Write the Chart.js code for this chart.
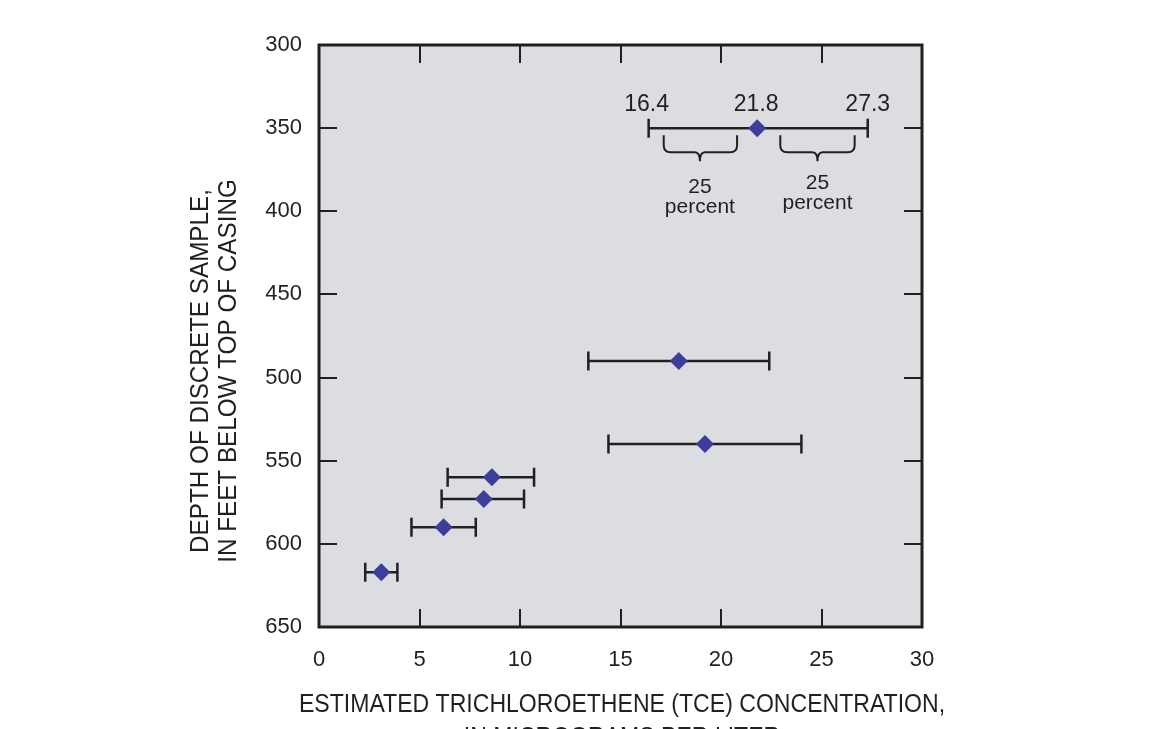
<!DOCTYPE html>
<html>
<head>
<meta charset="utf-8">
<script src="https://cdn.jsdelivr.net/npm/chart.js@4.4.1/dist/chart.umd.min.js"></script>
<style>
html,body{margin:0;padding:0;background:#fff;}
#c{display:block;}
</style>
</head>
<body>
<canvas id="c" width="1154" height="729"></canvas>
<script>
// ---- data ----
const depthFt = [350, 490, 540, 560, 573, 590, 617];
const tceValue = [21.8, 17.9, 19.2, 8.6, 8.2, 6.2, 3.1];
const tceLow = [16.4, 13.4, 14.4, 6.4, 6.1, 4.6, 2.3];
const tceHigh = [27.3, 22.4, 24.0, 10.7, 10.2, 7.8, 3.9];
const xTicks = [0, 5, 10, 15, 20, 25, 30];
const yTicks = [300, 350, 400, 450, 500, 550, 600, 650];
const exampleLabels = ['16.4', '21.8', '27.3'];
const xTitle = ['ESTIMATED TRICHLOROETHENE (TCE) CONCENTRATION,', 'IN MICROGRAMS PER LITER'];
const yTitle = ['DEPTH OF DISCRETE SAMPLE,', 'IN FEET BELOW TOP OF CASING'];
const braceText = ['25', 'percent'];

const FONT = "'Liberation Sans', Arial, sans-serif";
const INK = '#231f20';

const decor = {
  id: 'decor',
  beforeDraw(chart) {
    const {ctx, chartArea: a} = chart;
    ctx.save();
    ctx.fillStyle = '#dcdde0';
    ctx.fillRect(a.left, a.top, a.right - a.left, a.bottom - a.top);
    ctx.restore();
  },
  beforeDatasetsDraw(chart) {
    const {ctx, scales: {x, y}} = chart;
    ctx.save();
    ctx.strokeStyle = INK;
    ctx.lineWidth = 2.5;
    const cap = 9.5;
    for (let i = 0; i < depthFt.length; i++) {
      const py = y.getPixelForValue(depthFt[i]);
      const x1 = x.getPixelForValue(tceLow[i]);
      const x2 = x.getPixelForValue(tceHigh[i]);
      ctx.beginPath();
      ctx.moveTo(x1, py); ctx.lineTo(x2, py);
      ctx.moveTo(x1, py - cap); ctx.lineTo(x1, py + cap);
      ctx.moveTo(x2, py - cap); ctx.lineTo(x2, py + cap);
      ctx.stroke();
    }
    ctx.restore();
  },
  afterDraw(chart) {
    const {ctx, chartArea: a, scales: {x, y}} = chart;
    ctx.save();
    // inward ticks
    ctx.strokeStyle = INK;
    ctx.lineWidth = 2;
    const tl = 18;
    yTicks.forEach(v => {
      if (v === yTicks[0] || v === yTicks[yTicks.length - 1]) return;
      const py = Math.round(y.getPixelForValue(v));
      ctx.beginPath();
      ctx.moveTo(a.left, py); ctx.lineTo(a.left + tl, py);
      ctx.moveTo(a.right, py); ctx.lineTo(a.right - tl, py);
      ctx.stroke();
    });
    xTicks.forEach(v => {
      if (v === xTicks[0] || v === xTicks[xTicks.length - 1]) return;
      const px = Math.round(x.getPixelForValue(v));
      ctx.beginPath();
      ctx.moveTo(px, a.bottom); ctx.lineTo(px, a.bottom - tl);
      ctx.moveTo(px, a.top); ctx.lineTo(px, a.top + tl);
      ctx.stroke();
    });
    // frame
    ctx.lineWidth = 3;
    ctx.strokeRect(a.left, a.top, a.right - a.left, a.bottom - a.top);

    // example labels above the first point
    ctx.fillStyle = INK;
    ctx.font = '23px ' + FONT;
    ctx.textAlign = 'center';
    ctx.textBaseline = 'middle';
    const ly = y.getPixelForValue(depthFt[0]) - 23;
    ctx.fillText(exampleLabels[0], x.getPixelForValue(tceLow[0]) - 2, ly);
    ctx.fillText(exampleLabels[1], x.getPixelForValue(tceValue[0]) - 1, ly);
    ctx.fillText(exampleLabels[2], x.getPixelForValue(tceHigh[0]), ly);

    // braces
    ctx.lineWidth = 2;
    const brace = (xa, xb, xt, yTop, yH, yTip) => {
      const r = 7;
      ctx.beginPath();
      ctx.moveTo(xa, yTop);
      ctx.lineTo(xa, yH - r);
      ctx.quadraticCurveTo(xa, yH, xa + r, yH);
      ctx.lineTo(xt - 5, yH);
      ctx.quadraticCurveTo(xt, yH, xt, yTip);
      ctx.quadraticCurveTo(xt, yH, xt + 5, yH);
      ctx.lineTo(xb - r, yH);
      ctx.quadraticCurveTo(xb, yH, xb, yH - r);
      ctx.lineTo(xb, yTop);
      ctx.stroke();
    };
    const yb = y.getPixelForValue(depthFt[0]);
    brace(x.getPixelForValue(17.15), x.getPixelForValue(20.8), x.getPixelForValue(18.95), yb + 7, yb + 24, yb + 33);
    brace(x.getPixelForValue(22.95), x.getPixelForValue(26.65), x.getPixelForValue(24.8), yb + 7, yb + 24, yb + 33);
    ctx.font = '21px ' + FONT;
    ctx.fillText(braceText[0], x.getPixelForValue(18.95), yb + 59);
    ctx.fillText(braceText[1], x.getPixelForValue(18.95), yb + 79);
    ctx.fillText(braceText[0], x.getPixelForValue(24.8), yb + 55);
    ctx.fillText(braceText[1], x.getPixelForValue(24.8), yb + 75);

    // axis titles (slightly condensed lettering)
    ctx.font = '26px ' + FONT;
    ctx.save();
    ctx.translate(622, 705);
    ctx.scale(0.887, 1);
    ctx.fillText(xTitle[0], 0, 0);
    ctx.fillText(xTitle[1], 0, 33);
    ctx.restore();
    ctx.font = '25px ' + FONT;
    ctx.save();
    ctx.translate(201, 371);
    ctx.rotate(-Math.PI / 2);
    ctx.scale(0.97, 1);
    ctx.fillText(yTitle[0], 0, 0);
    ctx.fillText(yTitle[1], 0, 28);
    ctx.restore();
    ctx.restore();
  }
};

new Chart(document.getElementById('c'), {
  type: 'scatter',
  data: {
    datasets: [{
      data: depthFt.map((d, i) => ({x: tceValue[i], y: d})),
      pointStyle: 'rectRot',
      radius: 9,
      hoverRadius: 9,
      backgroundColor: '#3d3d9c',
      borderColor: '#3d3d9c',
      borderWidth: 0
    }]
  },
  options: {
    responsive: false,
    animation: false,
    devicePixelRatio: 1,
    layout: {padding: {top: 45, right: 232, left: 0, bottom: 0}},
    plugins: {legend: {display: false}, tooltip: {enabled: false}},
    scales: {
      x: {
        type: 'linear', min: 0, max: 30,
        afterFit: s => { s.height = 102; },
        afterBuildTicks: s => { s.ticks = xTicks.map(v => ({value: v})); },
        grid: {display: false, drawTicks: false},
        border: {display: false},
        ticks: {padding: 20, color: INK, font: {family: FONT, size: 22}, maxRotation: 0}
      },
      y: {
        type: 'linear', min: 300, max: 650, reverse: true,
        afterFit: s => { s.width = 319; },
        afterBuildTicks: s => { s.ticks = yTicks.map(v => ({value: v})); },
        grid: {display: false, drawTicks: false},
        border: {display: false},
        ticks: {padding: 17, color: INK, font: {family: FONT, size: 22}}
      }
    }
  },
  plugins: [decor]
});
</script>
</body>
</html>
